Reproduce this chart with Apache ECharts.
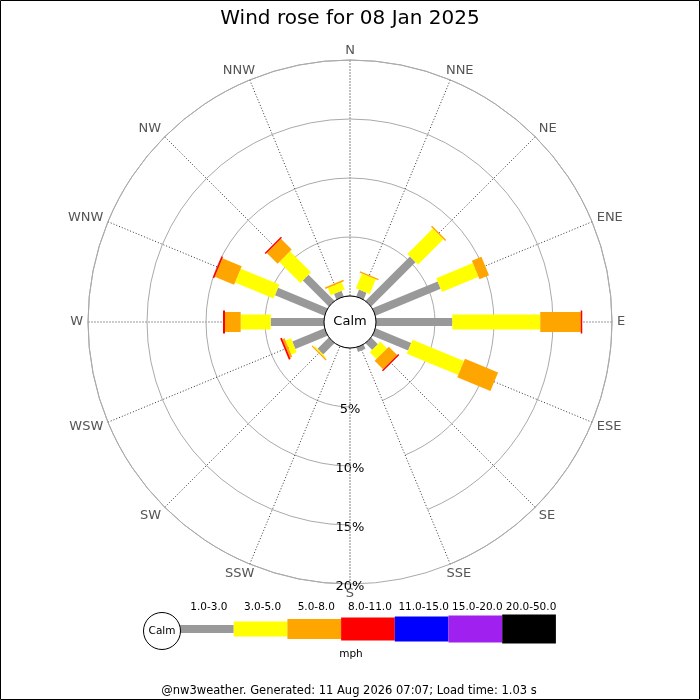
<!DOCTYPE html>
<html><head><meta charset="utf-8">
<script src="https://cdn.jsdelivr.net/npm/echarts@6/dist/echarts.min.js"></script>
<style>html,body{margin:0;padding:0;background:#fff}#c{width:700px;height:700px}</style>
</head><body><div id="c"></div>
<script>
// ---------- data ----------
const TITLE = 'Wind rose for 08 Jan 2025';
const FOOTER = '@nw3weather. Generated: 11 Aug 2026 07:07; Load time: 1.03 s';
const CALM_LABEL = 'Calm';
const SPEED_UNIT = 'mph';
const DIRECTIONS = ['N','NNE','NE','ENE','E','ESE','SE','SSE','S','SSW','SW','WSW','W','WNW','NW','NNW'];
const SPEED_BINS = ['1.0-3.0','3.0-5.0','5.0-8.0','8.0-11.0','11.0-15.0','15.0-20.0','20.0-50.0'];
// frequency (%) per direction, order as DIRECTIONS
const BIN_1_3   = [0, 0.63, 5.31, 5.97, 6.47, 3.27, 0.80, 0.40, 0, 0, 1.35, 2.95, 4.52, 4.54, 3.11, 0.52];
const BIN_3_5   = [0, 1.35, 3.05, 3.36, 7.45, 4.72, 0.80, 0,    0, 0, 0.10, 0.50, 2.54, 3.54, 2.52, 0.66];
const BIN_5_8   = [0, 0.12, 0.12, 0.87, 3.43, 3.04, 1.00, 0,    0, 0, 0.10, 0.20, 1.33, 1.77, 1.29, 0.14];
const BIN_8_11  = [0, 0,    0,    0,    0.13, 0,    0.13, 0,    0, 0, 0,    0.15, 0.17, 0.13, 0.13, 0];
const BIN_11_15 = [0,0,0,0,0,0,0,0,0,0,0,0,0,0,0,0];
const BIN_15_20 = [0,0,0,0,0,0,0,0,0,0,0,0,0,0,0,0];
const BIN_20_50 = [0,0,0,0,0,0,0,0,0,0,0,0,0,0,0,0];
const RADIUS_MAX = 20;
const RADIUS_STEP = 5;

// ---------- styles ----------
const BIN_COLORS = ['#999999','#ffff00','#ffa500','#ff0000','#0000ff','#a020f0','#000000'];
const BIN_THICK  = [8, 15, 20, 23, 25, 27, 29];
const FONT = 'DejaVu Sans';
const DIR_FONT = '13px "' + FONT + '"';

const BINS = [BIN_1_3, BIN_3_5, BIN_5_8, BIN_8_11, BIN_11_15, BIN_15_20, BIN_20_50];
// angle axis starts at South (so the radius axis labels sit along S)
const ANGLE_CATS = DIRECTIONS.slice(8).concat(DIRECTIONS.slice(0, 8));
const angleIdx = i => (i + 8) % 16;

const measureCtx = document.createElement('canvas').getContext('2d');
function textWidth(t, font) { measureCtx.font = font; return measureCtx.measureText(t).width; }
const clamp1 = v => Math.max(-1, Math.min(1, v));

function barRender(thick, color) {
  return function (params, api) {
    const r1 = api.value(0), a = api.value(1), r0 = api.value(2);
    const p0 = api.coord([r0, a]), p1 = api.coord([r1, a]);
    const dx = p1[0] - p0[0], dy = p1[1] - p0[1];
    const len = Math.hypot(dx, dy) || 1;
    const nx = -dy / len * thick / 2, ny = dx / len * thick / 2;
    return {
      type: 'polygon',
      shape: { points: [[p0[0]+nx, p0[1]+ny], [p1[0]+nx, p1[1]+ny], [p1[0]-nx, p1[1]-ny], [p0[0]-nx, p0[1]-ny]] },
      style: { fill: color }
    };
  };
}

const series = [];
// cardinal spokes
series.push({
  type: 'custom', coordinateSystem: 'polar', silent: true, z: 1,
  data: [0, 4, 8, 12].map(a => [RADIUS_MAX, a]),
  renderItem: function (params, api) {
    const a = api.value(1);
    const p0 = api.coord([0, a]), p1 = api.coord([RADIUS_MAX, a]);
    return { type: 'line', shape: { x1: p0[0], y1: p0[1], x2: p1[0], y2: p1[1] },
      style: { stroke: '#9a9a9a', lineWidth: 1.2, lineDash: [2, 1] } };
  }
});
// direction labels just outside the outer ring at the end of each spoke
series.push({
  type: 'custom', coordinateSystem: 'polar', silent: true, z: 2,
  data: DIRECTIONS.map((d, i) => [RADIUS_MAX, angleIdx(i), i]),
  renderItem: function (params, api) {
    const cs = params.coordSys;
    const p = api.coord([api.value(0), api.value(1)]);
    const ux = (p[0] - cs.cx) / cs.r, uy = (p[1] - cs.cy) / cs.r;
    const name = DIRECTIONS[api.value(2)];
    const hw = textWidth(name, DIR_FONT) / 2, hh = 4.75, pad = 5;
    const x = p[0] + ux * pad + clamp1(ux / 0.7) * hw;
    const y = p[1] + uy * pad + clamp1(uy / 0.7) * hh;
    return { type: 'text', style: { text: name, x: x, y: y,
      align: 'center', verticalAlign: 'middle', fill: '#555', font: DIR_FONT } };
  }
});
const base = DIRECTIONS.map(() => 0);
BINS.forEach((bin, b) => {
  const data = [];
  DIRECTIONS.forEach((d, i) => {
    const v = bin[i];
    if (v > 0) data.push([base[i] + v, angleIdx(i), base[i]]);
    base[i] += v;
  });
  series.push({
    type: 'custom', coordinateSystem: 'polar', silent: true, z: 2,
    name: SPEED_BINS[b], data: data, renderItem: barRender(BIN_THICK[b], BIN_COLORS[b])
  });
});
// calm circle
series.push({
  type: 'custom', coordinateSystem: 'polar', silent: true, z: 3,
  data: [[0, 0]],
  renderItem: function (params) {
    const cs = params.coordSys;
    return { type: 'group', children: [
      { type: 'circle', shape: { cx: cs.cx, cy: cs.cy, r: cs.r0 }, style: { fill: '#fff', stroke: '#000', lineWidth: 1 } },
      { type: 'text', style: { text: CALM_LABEL, x: cs.cx, y: cs.cy, align: 'center', verticalAlign: 'middle', fill: '#000', font: '13px "' + FONT + '"' } }
    ] };
  }
});

// legend graphics
const graphic = [];
const LX = 180, LW = 53.7, LY = 629;
SPEED_BINS.forEach((lab, b) => {
  graphic.push({ type: 'rect', silent: true, shape: { x: LX + LW * b, y: LY - BIN_THICK[b] / 2, width: LW, height: BIN_THICK[b] },
    style: { fill: BIN_COLORS[b] } });
  graphic.push({ type: 'text', silent: true, x: LX + LW * (b + 0.5) + 2, y: 607,
    style: { text: lab, align: 'center', verticalAlign: 'middle', fill: '#000', font: '10.5px "' + FONT + '"' } });
});
graphic.push({ type: 'circle', silent: true, shape: { cx: 162, cy: 631, r: 18.5 }, style: { fill: '#fff', stroke: '#000', lineWidth: 1 } });
graphic.push({ type: 'text', silent: true, x: 162, y: 631, style: { text: CALM_LABEL, align: 'center', verticalAlign: 'middle', fill: '#000', font: '10.5px "' + FONT + '"' } });
graphic.push({ type: 'text', silent: true, x: 351, y: 654, style: { text: SPEED_UNIT, align: 'center', verticalAlign: 'middle', fill: '#000', font: '10.5px "' + FONT + '"' } });
graphic.push({ type: 'text', silent: true, x: 349, y: 691, style: { text: FOOTER, align: 'center', verticalAlign: 'middle', fill: '#000', font: '11.5px "' + FONT + '"' } });
graphic.push({ type: 'rect', silent: true, z: 100, shape: { x: 0.5, y: 0.5, width: 699, height: 699 }, style: { fill: 'none', stroke: '#000', lineWidth: 1 } });

const chart = echarts.init(document.getElementById('c'), null, { renderer: 'canvas' });
chart.setOption({
  animation: false,
  backgroundColor: '#fff',
  textStyle: { fontFamily: FONT },
  title: { text: TITLE, left: 'center', top: 4, textStyle: { fontSize: 20, fontWeight: 'normal', color: '#000', fontFamily: FONT } },
  polar: { center: [350, 322], radius: [26, 262] },
  angleAxis: {
    type: 'category', data: ANGLE_CATS, startAngle: -90, clockwise: true, boundaryGap: false,
    axisLine: { show: true, lineStyle: { color: '#aaa', width: 1 } },
    axisTick: { show: false },
    axisLabel: { show: false },
    splitLine: { show: true, lineStyle: { color: ['rgba(0,0,0,0)', '#333', '#333', '#333'], type: [1, 2], width: 1 } }
  },
  radiusAxis: {
    type: 'value', min: 0, max: RADIUS_MAX, interval: RADIUS_STEP,
    axisLine: { show: false }, axisTick: { show: false },
    axisLabel: {
      formatter: v => v === 0 ? '' : '{p|' + v + '%}',
      margin: 0, align: 'center', verticalAlign: 'middle',
      rich: { p: { color: '#000', fontSize: 13, fontFamily: FONT, padding: [6, 0, 0, 0] } }
    },
    splitLine: { show: true, lineStyle: { color: '#aaa', width: 1 } }
  },
  graphic: graphic,
  series: series
});
</script></body></html>
